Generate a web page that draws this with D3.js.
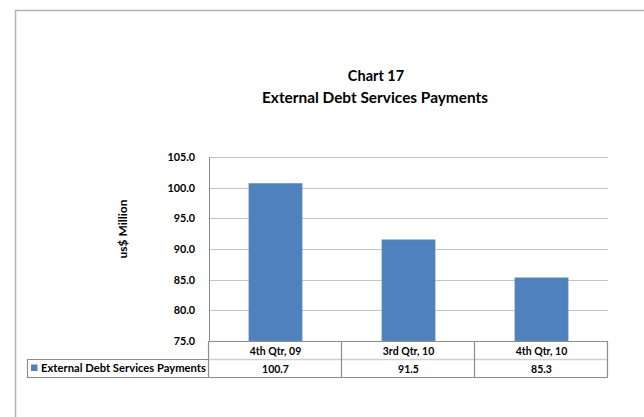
<!DOCTYPE html>
<html>
<head>
<meta charset="utf-8">
<script src="https://cdn.jsdelivr.net/npm/d3@7"></script>
<style>
  html, body { margin: 0; padding: 0; background: #fff; }
  svg { display: block; }
  text { font-family: Lato, "Open Sans", sans-serif; font-weight: bold; fill: #000; }
</style>
</head>
<body>
<svg id="chart" width="644" height="417"></svg>
<script>
const categories = ["4th Qtr, 09", "3rd Qtr, 10", "4th Qtr, 10"];
const seriesName = "External Debt Services Payments";
const values = [100.7, 91.5, 85.3];
const valueLabels = ["100.7", "91.5", "85.3"];
const yTicks = [75, 80, 85, 90, 95, 100, 105];
const titleLines = ["Chart 17", "External Debt Services Payments"];
const yTitle = "us$ Million";

const svg = d3.select("#chart");

// outer chart border
svg.append("path")
  .attr("d", "M15.5,430 V10.5 H660")
  .attr("fill", "none").attr("stroke", "#b4b4b4").attr("stroke-width", 1.5);

const plot = { left: 209, right: 608, top: 157, bottom: 341 };

const x = d3.scaleBand().domain(categories).range([plot.left, plot.right]).padding(0);
const y = d3.scaleLinear().domain([75, 105]).range([plot.bottom, plot.top]);

// gridlines
svg.append("g").selectAll("line").data(yTicks.filter(t => t > 75)).join("line")
  .attr("x1", plot.left).attr("x2", plot.right)
  .attr("y1", d => Math.round(y(d)) + 0.5).attr("y2", d => Math.round(y(d)) + 0.5)
  .attr("stroke", "#c4c4c4").attr("stroke-width", 1.2);

// y axis
const yAxis = d3.axisLeft(y).tickValues(yTicks).tickFormat(d3.format(".1f")).tickSize(0).tickPadding(14);
const gy = svg.append("g").attr("transform", `translate(${plot.left},0)`).call(yAxis);
gy.select(".domain").attr("stroke", "#8c8c8c");
gy.selectAll(".tick text").attr("font-size", 10.8).attr("font-family", "Lato, sans-serif").attr("font-weight", "bold");

// bars
const barW = x.bandwidth() * 0.4;
svg.append("g").selectAll("rect").data(values).join("rect")
  .attr("x", (d, i) => x(categories[i]) + (x.bandwidth() - barW) / 2)
  .attr("y", d => y(d))
  .attr("width", barW)
  .attr("height", d => y(75) - y(d))
  .attr("fill", "#4f81bd")
  .attr("stroke", "#6f97c9").attr("stroke-width", 0.6);

// data table
const rowH = 18;
const r1 = plot.bottom, r2 = plot.bottom + rowH + 0.5, r3 = plot.bottom + 2 * rowH;
const tbl = svg.append("g");
tbl.append("line").attr("x1", plot.left).attr("x2", plot.right).attr("y1", r2).attr("y2", r2)
  .attr("stroke", "#d0d0d0").attr("stroke-width", 1.5);
tbl.append("line").attr("x1", plot.left).attr("x2", plot.right).attr("y1", r1 + 0.5).attr("y2", r1 + 0.5)
  .attr("stroke", "#8c8c8c").attr("stroke-width", 1.2);
tbl.append("line").attr("x1", 27).attr("x2", plot.right).attr("y1", r3 + 0.5).attr("y2", r3 + 0.5)
  .attr("stroke", "#8c8c8c").attr("stroke-width", 1.2);
tbl.append("line").attr("x1", 27).attr("x2", plot.left).attr("y1", r2).attr("y2", r2)
  .attr("stroke", "#8c8c8c").attr("stroke-width", 1.2);
tbl.append("line").attr("x1", 27.5).attr("x2", 27.5).attr("y1", r2).attr("y2", r3 + 1)
  .attr("stroke", "#8c8c8c").attr("stroke-width", 1.2);
const seps = categories.map(c => x(c)).concat([plot.right]);
tbl.selectAll("line.sep").data(seps).join("line").attr("class", "sep")
  .attr("x1", d => d - 0.5).attr("x2", d => d - 0.5)
  .attr("y1", r1).attr("y2", r3 + 1)
  .attr("stroke", "#8c8c8c").attr("stroke-width", 1.2);

tbl.selectAll("text.cat").data(categories).join("text").attr("class", "cat")
  .attr("x", d => x(d) + x.bandwidth() / 2).attr("y", r1 + 13.5)
  .attr("text-anchor", "middle").attr("font-size", 10.5).text(d => d);
tbl.selectAll("text.val").data(valueLabels).join("text").attr("class", "val")
  .attr("x", (d, i) => x(categories[i]) + x.bandwidth() / 2).attr("y", r2 + 13)
  .attr("text-anchor", "middle").attr("font-size", 10.5).text(d => d);

// legend key
tbl.append("rect").attr("x", 31).attr("y", r2 + 5).attr("width", 6.5).attr("height", 6.5).attr("fill", "#4f81bd");
tbl.append("text").attr("x", 41).attr("y", r2 + 12.5).attr("font-size", 10.5).text(seriesName)
  .each(function() { const w = this.getComputedTextLength(); if (Math.abs(w - 165) > 2) d3.select(this).attr("textLength", 165).attr("lengthAdjust", "spacingAndGlyphs"); });

// title
svg.append("text").attr("x", 376).attr("y", 81).attr("text-anchor", "middle").attr("font-size", 14.5).text(titleLines[0]);
svg.append("text").attr("x", 375).attr("y", 103).attr("text-anchor", "middle").attr("font-size", 14.5).text(titleLines[1])
  .each(function() { const w = this.getComputedTextLength(); if (Math.abs(w - 226) > 3) d3.select(this).attr("textLength", 226).attr("lengthAdjust", "spacingAndGlyphs"); });

// y title
svg.append("text").attr("transform", "translate(127,229) rotate(-90)").attr("text-anchor", "middle")
  .attr("font-size", 12).text(yTitle);
</script>
</body>
</html>
